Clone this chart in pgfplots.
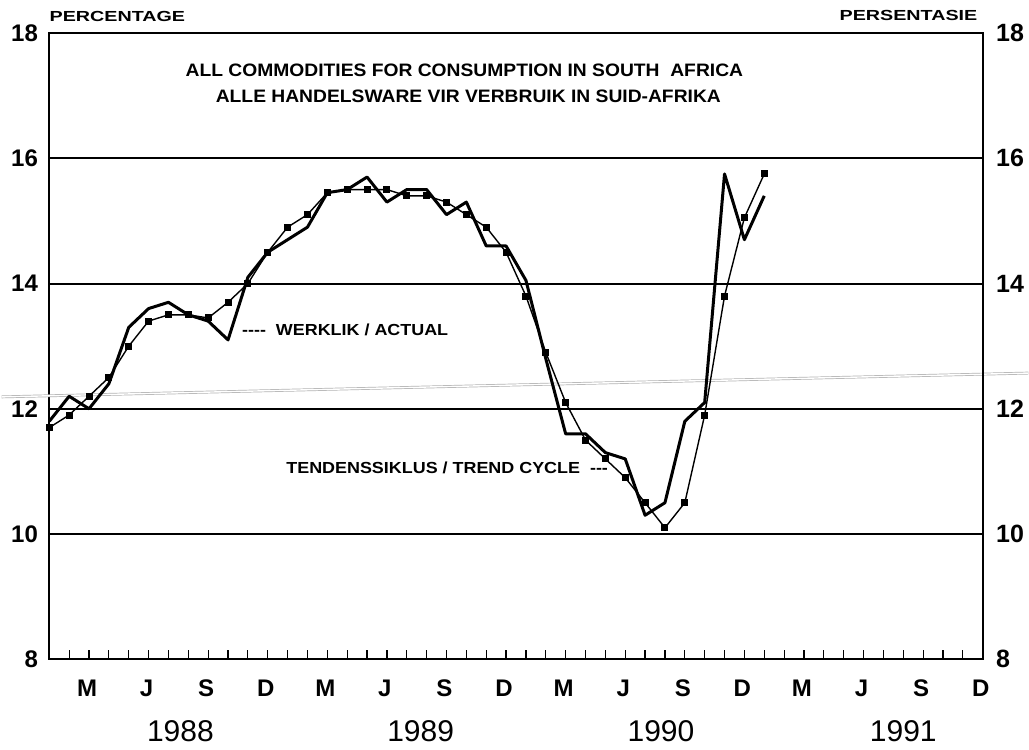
\documentclass[border=0pt]{standalone}
\usepackage{pgfplots}
\pgfplotsset{compat=1.18}
\usepackage{pgfplotstable}
\usepackage{graphicx}
\usepackage{fontspec}
\setmainfont{Liberation Sans}

\pgfplotstableread{
m v
0 11.8
1 12.2
2 12.0
3 12.4
4 13.3
5 13.6
6 13.7
7 13.5
8 13.4
9 13.1
10 14.1
11 14.5
12 14.7
13 14.9
14 15.45
15 15.5
16 15.7
17 15.3
18 15.5
19 15.5
20 15.1
21 15.3
22 14.6
23 14.6
24 14.05
25 12.8
26 11.6
27 11.6
28 11.3
29 11.2
30 10.3
31 10.5
32 11.8
33 12.1
34 15.75
35 14.7
36 15.4
}\actual

\pgfplotstableread{
m v
0 11.7
1 11.9
2 12.2
3 12.5
4 13.0
5 13.4
6 13.5
7 13.5
8 13.45
9 13.7
10 14.0
11 14.5
12 14.9
13 15.1
14 15.45
15 15.5
16 15.5
17 15.5
18 15.4
19 15.4
20 15.3
21 15.1
22 14.9
23 14.5
24 13.8
25 12.9
26 12.1
27 11.5
28 11.2
29 10.9
30 10.5
31 10.1
32 10.5
33 11.9
34 13.8
35 15.05
36 15.75
}\trend

\begin{document}
\begin{tikzpicture}
\pgfplotsset{
  mybase/.style={
    scale only axis, width=466.7pt, height=313.15pt,
    xmin=0, xmax=47, ymin=8, ymax=18,
    clip=false,
    /pgf/number format/assume math mode=true,
  }
}
\begin{axis}[mybase,
  axis line style={line width=0.8pt},
  ytick={8,10,...,18},
  ymajorgrids,
  major grid style={line width=1pt, black},
  ytick style={draw=none},
  ytick pos=left,
  yticklabel style={font=\bfseries\fontsize{12}{12}\selectfont, anchor=east, inner sep=0pt, xshift=-5.5pt},
  xtick={2,5,...,47},
  xticklabels={M,J,S,D,M,J,S,D,M,J,S,D,M,J,S,D},
  minor xtick={1,...,46},
  xtick pos=bottom,
  tick align=inside,
  major tick length=4.5pt, minor tick length=4.5pt,
  xtick style={line width=0.6pt, black},
  minor x tick style={line width=0.6pt, black},
  xticklabel style={font=\bfseries\fontsize{12}{12}\selectfont, anchor=center, inner sep=0pt, yshift=-14.5pt, xshift=-1pt},
]
% scanning artefact (double grey line)
\addplot[draw=gray!60, line width=0.35pt, double=white, double distance=0.7pt, forget plot]
  coordinates {(-2.4,12.19) (49.3,12.57)};

\addplot[black, line width=1.5pt, line join=round] table[x=m, y=v] {\actual};
\addplot[black, line width=0.7pt, mark=square*, mark size=1.4pt, mark options={solid}] table[x=m, y=v] {\trend};

% titles
\node[anchor=south west, inner sep=0pt] at (rel axis cs:0,1) [yshift=5.5pt]
  {\scalebox{1.35}[1]{\bfseries\fontsize{7.3}{7.3}\selectfont PERCENTAGE}};
\node[anchor=south east, inner sep=0pt] at (rel axis cs:1,1) [xshift=-2.5pt, yshift=6pt]
  {\scalebox{1.35}[1]{\bfseries\fontsize{7.3}{7.3}\selectfont PERSENTASIE}};

\node[inner sep=0pt] at (axis cs:20.9,17.41)
  {\scalebox{1.07}[1]{\bfseries\fontsize{9}{9}\selectfont ALL COMMODITIES FOR CONSUMPTION IN SOUTH\ \ AFRICA}};
\node[inner sep=0pt] at (axis cs:21.1,16.99)
  {\scalebox{1.07}[1]{\bfseries\fontsize{9}{9}\selectfont ALLE HANDELSWARE VIR VERBRUIK IN SUID-AFRIKA}};

% annotations
\node[anchor=west, inner sep=0pt] at (axis cs:9.69,13.26)
  {\scalebox{1.12}[1]{\bfseries\fontsize{8}{8}\selectfont {-}{-}{-}{-}\ \ WERKLIK / ACTUAL}};
\node[anchor=east, inner sep=0pt] at (axis cs:28.15,11.05)
  {\scalebox{1.12}[1]{\bfseries\fontsize{8}{8}\selectfont TENDENSSIKLUS / TREND CYCLE\ \ {-}{-}{-}}};

% years
\node[font=\fontsize{15}{15}\selectfont, inner sep=0pt] at (axis cs:6.6,8) [yshift=-36pt] {1988};
\node[font=\fontsize{15}{15}\selectfont, inner sep=0pt] at (axis cs:18.7,8) [yshift=-36pt] {1989};
\node[font=\fontsize{15}{15}\selectfont, inner sep=0pt] at (axis cs:30.8,8) [yshift=-36pt] {1990};
\node[font=\fontsize{15}{15}\selectfont, inner sep=0pt] at (axis cs:43.0,8) [yshift=-36pt] {1991};
\end{axis}

\begin{axis}[mybase,
  axis x line=none,
  axis y line*=right,
  axis line style={line width=0.8pt},
  ytick={8,10,...,18},
  ytick style={draw=none},
  yticklabel style={font=\bfseries\fontsize{12.5}{12.5}\selectfont, anchor=west, inner sep=0pt, xshift=6.5pt},
]
\addplot[draw=none] coordinates {(0,8)};
\end{axis}

\pgfresetboundingbox
\useasboundingbox ([xshift=-24.65pt,yshift=-44.85pt]current axis.south west) rectangle ([xshift=23.15pt,yshift=16.5pt]current axis.north east);
\end{tikzpicture}
\end{document}
